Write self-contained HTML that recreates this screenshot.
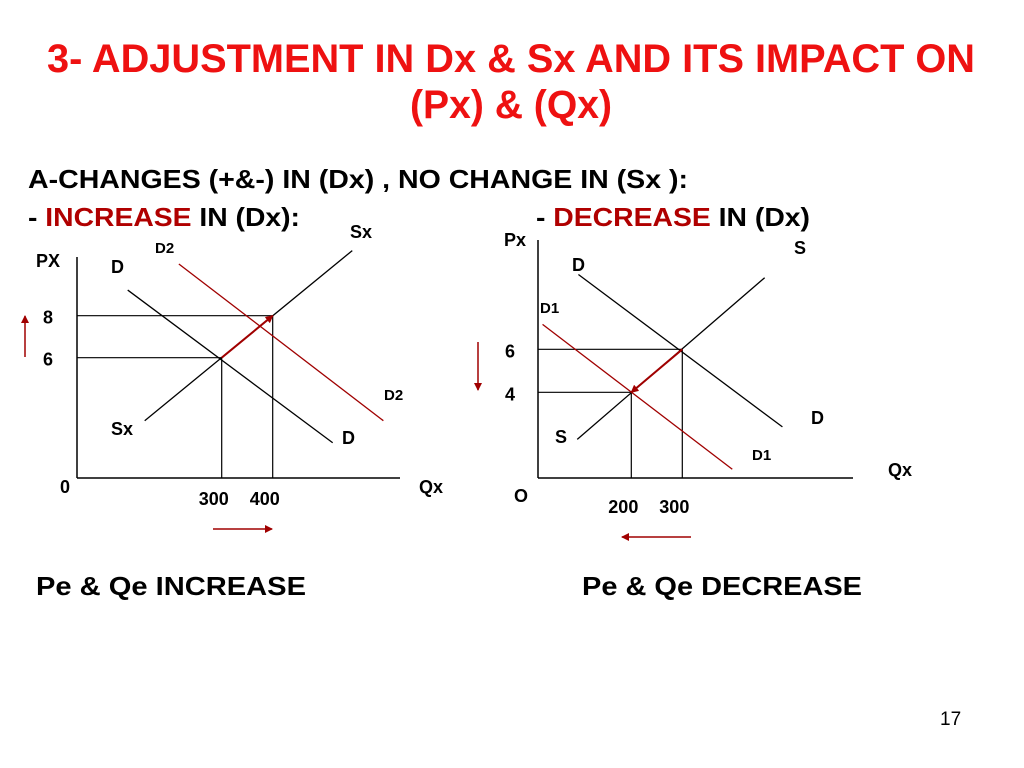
<!DOCTYPE html>
<html><head><meta charset="utf-8"><style>
html,body{margin:0;padding:0;background:#fff;width:1024px;height:768px;overflow:hidden}
svg{display:block;font-family:"Liberation Sans",Arial,sans-serif}
.lb{font-size:18px;font-weight:bold;fill:#000}
.sm{font-size:15px;font-weight:bold;fill:#000}
</style></head><body>
<svg id="s" width="1024" height="768" viewBox="0 0 1024 768">
<defs>
<marker id="ah" markerWidth="8" markerHeight="8" refX="7" refY="4" orient="auto" markerUnits="userSpaceOnUse"><path d="M0,0 L8,4 L0,8 z" fill="#a00000"/></marker>
</defs>
<text x="47" y="72" font-size="40" font-weight="bold" fill="#ee1111" textLength="928" lengthAdjust="spacingAndGlyphs">3- ADJUSTMENT IN Dx &amp; Sx AND ITS IMPACT ON</text>
<text x="410" y="118" font-size="40" font-weight="bold" fill="#ee1111" textLength="202" lengthAdjust="spacingAndGlyphs">(Px) &amp; (Qx)</text>
<text x="28" y="188" font-size="26" font-weight="bold" textLength="660" lengthAdjust="spacingAndGlyphs">A-CHANGES (+&amp;-) IN (Dx) , NO CHANGE IN (Sx ):</text>
<text x="28" y="226" font-size="26" font-weight="bold" textLength="272" lengthAdjust="spacingAndGlyphs">- <tspan fill="#b00000">INCREASE</tspan> IN (Dx):</text>
<text x="536" y="226" font-size="26" font-weight="bold" textLength="274" lengthAdjust="spacingAndGlyphs">- <tspan fill="#b00000">DECREASE</tspan> IN (Dx)</text>
<text x="36" y="595" font-size="26" font-weight="bold" textLength="270" lengthAdjust="spacingAndGlyphs">Pe &amp; Qe  INCREASE</text>
<text x="582" y="595" font-size="26" font-weight="bold" textLength="280" lengthAdjust="spacingAndGlyphs">Pe &amp; Qe  DECREASE</text>
<text x="940" y="725" font-size="19">17</text>
<g id="left"></g>
<g id="right"></g>
</svg>
<script>
// Left chart data (price/quantity units)
const leftTicksQ = [300, 400];
const leftTicksP = [6, 8];
const leftD  = [[115.7, 9.22], [517.6, 1.95]];
const leftD2 = [[216, 10.46], [617, 3.0]];
const leftSx = [[149, 3.0], [556, 11.1]];
const leftEq0 = [300, 6];
const leftEq1 = [400, 8];
// Right chart data
const rightTicksQ = [200, 300];
const rightTicksP = [4, 6];
const rightD  = [[96.3, 9.48], [496.3, 2.39]];
const rightD1 = [[26, 7.16], [398, 0.42]];
const rightS  = [[94, 1.81], [461.5, 9.33]];
const rightEq0 = [300, 6];
const rightEq1 = [200, 4];

const NS = "http://www.w3.org/2000/svg";
function mk(parent, tag, attrs) {
  const e = document.createElementNS(NS, tag);
  for (const k in attrs) e.setAttribute(k, attrs[k]);
  parent.appendChild(e);
  return e;
}
const lx = q => 221.7 + (q - 300) * 0.51;
const ly = p => 357.7 - (p - 6) * 21;
const rx = q => 631.3 + (q - 200) * 0.51;
const ry = p => 392.3 - (p - 4) * 21.5;

function drawChart(g, X, Y, ax, curves, ticksQ, ticksP, eq0, eq1) {
  const yAxis = mk(g, 'line', {x1: ax.x0, y1: ax.top, x2: ax.x0, y2: ax.y0, stroke: '#000', 'stroke-width': 1.5});
  
  
  const xAxis = mk(g, 'line', {x1: ax.x0, y1: ax.y0, x2: ax.right, y2: ax.y0, stroke: '#000', 'stroke-width': 1.5});
  
  
  ticksP.forEach(p => {
    const l = mk(g, 'line', {x1: ax.x0, y1: Y(p), x2: X(ticksQ[ticksP.indexOf(p)]), y2: Y(p), stroke: '#000', 'stroke-width': 1.2});
    
    
  });
  ticksQ.forEach((q, i) => {
    const l = mk(g, 'line', {x1: X(q), y1: Y(ticksP[i]), x2: X(q), y2: ax.y0, stroke: '#000', 'stroke-width': 1.2});
    
    
  });
  curves.forEach(c => {
    const l = mk(g, 'line', {x1: X(c.pts[0][0]), y1: Y(c.pts[0][1]), x2: X(c.pts[1][0]), y2: Y(c.pts[1][1]), stroke: c.color, 'stroke-width': 1.3});
    
    
  });
  const a = mk(g, 'line', {x1: X(eq0[0]), y1: Y(eq0[1]), x2: X(eq1[0]), y2: Y(eq1[1]), stroke: '#a00000', 'stroke-width': 2, 'marker-end': 'url(#ah)'});
  
  
}
function label(g, x, y, t, cls, name) {
  const e = mk(g, 'text', {x: x, y: y, class: cls});
  e.textContent = t;
  
  
}
function arrow(g, x1, y1, x2, y2, name) {
  const e = mk(g, 'line', {x1, y1, x2, y2, stroke: '#a00000', 'stroke-width': 1.5, 'marker-end': 'url(#ah)'});
  
  
}

const L = document.getElementById('left');
drawChart(L, lx, ly, {x0: 77, top: 257, y0: 478, right: 400},
  [{pts: leftD, color: '#000', name: 'demand-d'}, {pts: leftSx, color: '#000', name: 'supply-sx'}, {pts: leftD2, color: '#a00000', name: 'demand-d2'}],
  leftTicksQ, leftTicksP, leftEq0, leftEq1);
label(L, 36, 267, 'PX', 'lb', 'y-axis-title');
label(L, 111, 273, 'D', 'lb', 'label-d-top');
label(L, 155, 253, 'D2', 'sm', 'label-d2-top');
label(L, 350, 238, 'Sx', 'lb', 'label-sx-top');
label(L, 111, 435, 'Sx', 'lb', 'label-sx-bottom');
label(L, 342, 444, 'D', 'lb', 'label-d-bottom');
label(L, 384, 400, 'D2', 'sm', 'label-d2-bottom');
label(L, 60, 493, '0', 'lb', 'origin-label');
label(L, 419, 493, 'Qx', 'lb', 'x-axis-title');
leftTicksP.forEach(p => label(L, 43, ly(p) + 8, String(p), 'lb', 'y-tick-' + p));
leftTicksQ.forEach(q => label(L, lx(q) - 23, 505, String(q), 'lb', 'x-tick-' + q));
arrow(L, 25, 357, 25, 316, 'price-up-arrow');
arrow(L, 213, 529, 272, 529, 'quantity-right-arrow');

const R = document.getElementById('right');
drawChart(R, rx, ry, {x0: 538, top: 240, y0: 478, right: 853},
  [{pts: rightD, color: '#000', name: 'demand-d'}, {pts: rightS, color: '#000', name: 'supply-s'}, {pts: rightD1, color: '#a00000', name: 'demand-d1'}],
  rightTicksQ, rightTicksP, rightEq0, rightEq1);
label(R, 504, 246, 'Px', 'lb', 'y-axis-title');
label(R, 794, 254, 'S', 'lb', 'label-s-top');
label(R, 572, 271, 'D', 'lb', 'label-d-top');
label(R, 540, 313, 'D1', 'sm', 'label-d1-top');
label(R, 555, 443, 'S', 'lb', 'label-s-bottom');
label(R, 811, 424, 'D', 'lb', 'label-d-bottom');
label(R, 752, 460, 'D1', 'sm', 'label-d1-bottom');
label(R, 888, 476, 'Qx', 'lb', 'x-axis-title');
label(R, 514, 502, 'O', 'lb', 'origin-label');
rightTicksP.forEach(p => label(R, 505, ry(p) + 8, String(p), 'lb', 'y-tick-' + p));
rightTicksQ.forEach(q => label(R, rx(q) - 23, 513, String(q), 'lb', 'x-tick-' + q));
arrow(R, 478, 342, 478, 390, 'price-down-arrow');
arrow(R, 691, 537, 622, 537, 'quantity-left-arrow');
</script>
</body></html>
